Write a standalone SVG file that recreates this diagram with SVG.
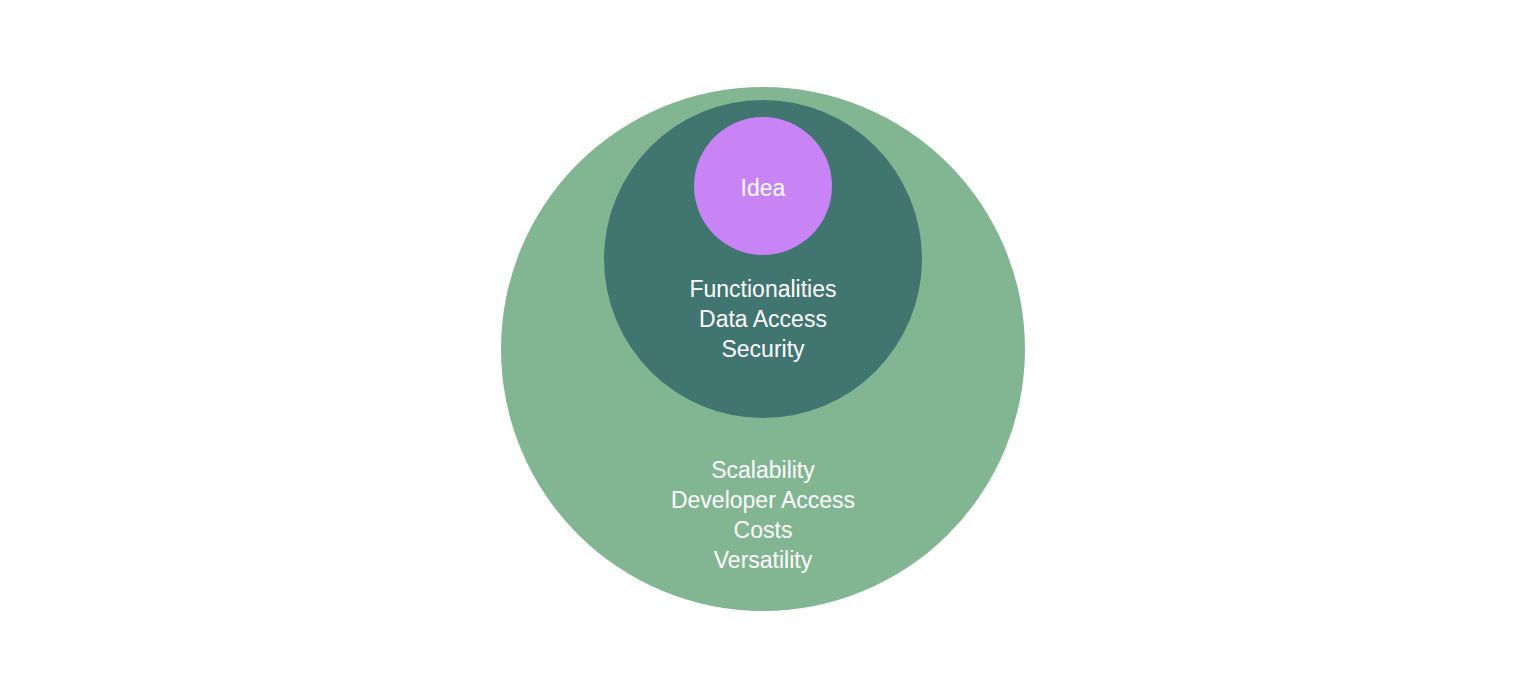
<svg xmlns="http://www.w3.org/2000/svg" width="1526" height="698" viewBox="0 0 1526 698">
<style>
.lbl{font-family:"Liberation Sans",Arial,Helvetica,sans-serif;font-size:23px;fill:#ffffff;text-anchor:middle;}
</style>
<rect width="1526" height="698" fill="#ffffff"/>
<g id="outer">
<circle cx="763" cy="349" r="262" fill="#82B692"/>
<text class="lbl" x="763" y="478">Scalability</text>
<text class="lbl" x="763" y="508">Developer Access</text>
<text class="lbl" x="763" y="538">Costs</text>
<text class="lbl" x="763" y="568">Versatility</text>
</g>
<g id="middle">
<circle cx="763" cy="259" r="159" fill="#417570"/>
<text class="lbl" x="763" y="297">Functionalities</text>
<text class="lbl" x="763" y="327">Data Access</text>
<text class="lbl" x="763" y="357">Security</text>
</g>
<g id="idea">
<circle cx="763" cy="186" r="69" fill="#C883F5"/>
<text class="lbl" x="763" y="196">Idea</text>
</g>
<g id="connectors"></g>
</svg>
